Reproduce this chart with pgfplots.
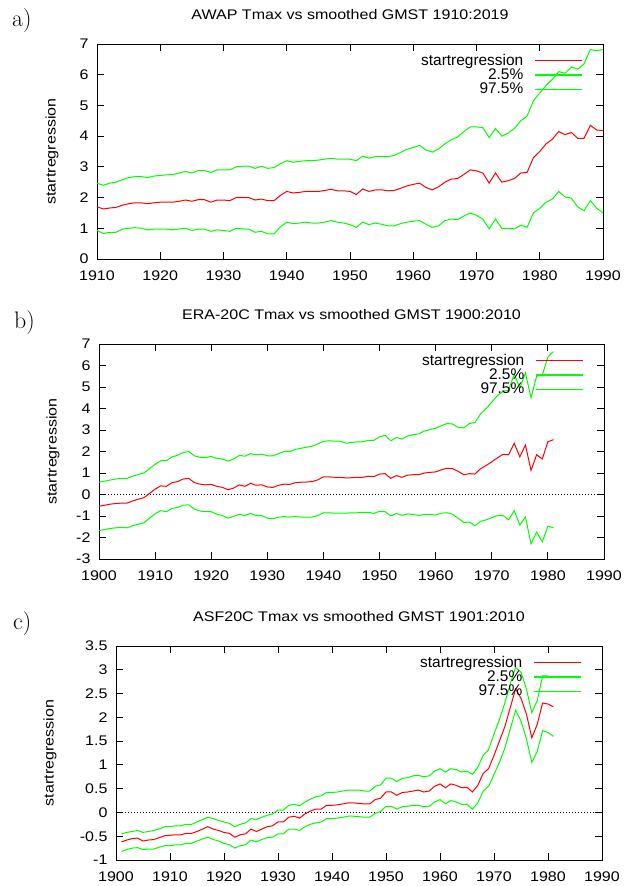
\documentclass[border=0pt]{standalone}
\usepackage{fontspec}
\usepackage{pgfplots}
\usepackage{pgfplotstable}
\pgfplotsset{compat=1.18}

\newfontfamily\gpfont[FakeStretch=1.15]{Liberation Sans}
\newfontfamily\gplegfont{Liberation Sans}
\newcommand\gp{\gpfont\fontsize{14}{16}\selectfont}
\newcommand\gpleg{\gplegfont\fontsize{15.5}{17}\selectfont}
\newcommand\lentry[1]{#1\vphantom{Ag\%}}
\definecolor{gpred}{RGB}{255,0,0}
\definecolor{gpgreen}{RGB}{0,255,0}

% year, regression, 2.5%, 97.5%
\pgfplotstableread{
year mid lo hi
1910 1.70 0.93 2.47
1911 1.63 0.83 2.40
1912 1.66 0.87 2.47
1913 1.68 0.87 2.50
1914 1.75 0.97 2.58
1915 1.80 1.00 2.65
1916 1.83 1.02 2.68
1917 1.83 1.00 2.68
1918 1.80 0.95 2.65
1919 1.83 0.97 2.70
1920 1.85 0.97 2.72
1921 1.85 0.97 2.74
1922 1.85 0.95 2.75
1923 1.88 0.98 2.80
1924 1.92 1.00 2.85
1925 1.88 0.93 2.80
1926 1.93 0.97 2.88
1927 1.93 0.97 2.88
1928 1.85 0.90 2.82
1929 1.92 0.95 2.90
1930 1.92 0.93 2.90
1931 1.90 0.90 2.90
1932 2.00 1.00 3.00
1933 2.00 0.98 3.02
1934 2.00 0.97 3.02
1935 1.92 0.87 2.95
1936 1.95 0.90 3.02
1937 1.90 0.82 2.95
1938 1.90 0.82 2.98
1939 2.07 1.05 3.10
1940 2.20 1.20 3.20
1941 2.15 1.15 3.15
1942 2.17 1.17 3.18
1943 2.20 1.20 3.20
1944 2.20 1.17 3.20
1945 2.20 1.17 3.22
1946 2.23 1.20 3.25
1947 2.27 1.25 3.28
1948 2.22 1.20 3.25
1949 2.22 1.17 3.25
1950 2.20 1.12 3.25
1951 2.10 1.03 3.20
1952 2.28 1.20 3.35
1953 2.20 1.12 3.28
1954 2.25 1.17 3.33
1955 2.25 1.13 3.33
1956 2.22 1.08 3.33
1957 2.23 1.08 3.37
1958 2.30 1.15 3.47
1959 2.38 1.20 3.57
1960 2.43 1.23 3.63
1961 2.47 1.25 3.70
1962 2.33 1.13 3.55
1963 2.25 1.03 3.48
1964 2.35 1.08 3.58
1965 2.50 1.25 3.75
1966 2.60 1.30 3.88
1967 2.62 1.28 3.97
1968 2.75 1.40 4.15
1969 2.90 1.50 4.30
1970 2.87 1.42 4.30
1971 2.80 1.30 4.28
1972 2.47 0.98 3.95
1973 2.80 1.30 4.25
1974 2.50 1.00 4.00
1975 2.55 1.00 4.10
1976 2.62 0.98 4.25
1977 2.80 1.10 4.50
1978 2.82 1.03 4.65
1979 3.30 1.50 5.15
1980 3.50 1.65 5.40
1981 3.75 1.85 5.65
1982 3.90 1.95 5.85
1983 4.15 2.20 6.10
1984 4.05 2.02 6.05
1985 4.12 1.98 6.25
1986 3.93 1.70 6.18
1987 3.93 1.57 6.35
1988 4.35 1.90 6.82
1989 4.20 1.65 6.78
1990 4.18 1.50 6.82
}\awap

\pgfplotstableread{
year mid lo hi
1900 -0.55 -1.68 0.57
1901 -0.50 -1.63 0.62
1902 -0.45 -1.58 0.67
1903 -0.42 -1.55 0.72
1904 -0.40 -1.53 0.75
1905 -0.40 -1.55 0.75
1906 -0.30 -1.45 0.85
1907 -0.22 -1.38 0.93
1908 -0.15 -1.32 1.00
1909 0.05 -1.10 1.20
1910 0.25 -0.90 1.40
1911 0.40 -0.75 1.57
1912 0.38 -0.80 1.57
1913 0.55 -0.65 1.75
1914 0.60 -0.60 1.82
1915 0.72 -0.50 1.95
1916 0.75 -0.48 2.00
1917 0.55 -0.68 1.80
1918 0.48 -0.77 1.73
1919 0.45 -0.80 1.72
1920 0.47 -0.80 1.77
1921 0.38 -0.92 1.68
1922 0.33 -0.98 1.65
1923 0.22 -1.10 1.55
1924 0.30 -1.02 1.65
1925 0.45 -0.92 1.82
1926 0.38 -0.98 1.78
1927 0.52 -0.88 1.90
1928 0.43 -0.98 1.85
1929 0.45 -0.98 1.88
1930 0.35 -1.10 1.80
1931 0.33 -1.13 1.80
1932 0.43 -1.05 1.90
1933 0.48 -1.03 2.00
1934 0.47 -1.05 2.00
1935 0.55 -1.03 2.10
1936 0.57 -1.05 2.15
1937 0.58 -1.05 2.20
1938 0.60 -1.05 2.25
1939 0.68 -0.98 2.35
1940 0.82 -0.85 2.47
1941 0.82 -0.85 2.50
1942 0.80 -0.87 2.48
1943 0.80 -0.87 2.48
1944 0.77 -0.87 2.38
1945 0.78 -0.85 2.42
1946 0.80 -0.85 2.45
1947 0.80 -0.83 2.45
1948 0.85 -0.83 2.52
1949 0.83 -0.88 2.52
1950 0.95 -0.78 2.68
1951 0.97 -0.80 2.75
1952 0.75 -1.00 2.50
1953 0.88 -0.88 2.65
1954 0.80 -0.97 2.58
1955 0.90 -0.90 2.72
1956 0.92 -0.93 2.78
1957 0.92 -0.97 2.82
1958 1.00 -0.93 2.95
1959 1.03 -0.93 3.02
1960 1.05 -0.95 3.08
1961 1.15 -0.87 3.20
1962 1.22 -0.85 3.30
1963 1.20 -0.92 3.28
1964 1.08 -1.10 3.12
1965 0.92 -1.30 3.10
1966 0.97 -1.28 3.30
1967 0.95 -1.45 3.35
1968 1.20 -1.25 3.75
1969 1.35 -1.18 4.00
1970 1.52 -1.08 4.30
1971 1.70 -0.98 4.60
1972 1.87 -0.97 4.80
1973 1.85 -1.18 4.85
1974 2.38 -0.75 5.60
1975 1.75 -1.42 4.95
1976 2.30 -1.05 5.65
1977 1.12 -2.30 4.50
1978 1.85 -1.75 5.50
1979 1.65 -2.20 5.55
1980 2.45 -1.48 6.40
1981 2.55 -1.55 6.65
}\eratwenty

\pgfplotstableread{
year mid lo hi
1901 -0.62 -0.82 -0.45
1902 -0.58 -0.78 -0.42
1903 -0.55 -0.75 -0.40
1904 -0.54 -0.74 -0.38
1905 -0.60 -0.78 -0.42
1906 -0.58 -0.77 -0.40
1907 -0.57 -0.77 -0.38
1908 -0.53 -0.73 -0.35
1909 -0.49 -0.70 -0.30
1910 -0.48 -0.70 -0.30
1911 -0.47 -0.68 -0.28
1912 -0.47 -0.68 -0.28
1913 -0.44 -0.65 -0.25
1914 -0.44 -0.65 -0.25
1915 -0.40 -0.60 -0.20
1916 -0.35 -0.56 -0.15
1917 -0.30 -0.52 -0.10
1918 -0.35 -0.57 -0.13
1919 -0.38 -0.60 -0.17
1920 -0.42 -0.65 -0.20
1921 -0.44 -0.68 -0.23
1922 -0.52 -0.75 -0.30
1923 -0.47 -0.70 -0.25
1924 -0.45 -0.68 -0.22
1925 -0.35 -0.58 -0.13
1926 -0.40 -0.62 -0.15
1927 -0.35 -0.57 -0.10
1928 -0.30 -0.53 -0.06
1929 -0.28 -0.52 -0.03
1930 -0.20 -0.45 0.05
1931 -0.20 -0.45 0.05
1932 -0.10 -0.35 0.15
1933 -0.08 -0.35 0.17
1934 -0.12 -0.38 0.14
1935 -0.03 -0.30 0.22
1936 0.03 -0.25 0.28
1937 0.07 -0.22 0.33
1938 0.07 -0.20 0.35
1939 0.15 -0.13 0.42
1940 0.15 -0.13 0.42
1941 0.16 -0.12 0.43
1942 0.18 -0.10 0.45
1943 0.20 -0.08 0.47
1944 0.20 -0.08 0.47
1945 0.19 -0.09 0.47
1946 0.18 -0.10 0.45
1947 0.18 -0.10 0.45
1948 0.27 -0.02 0.55
1949 0.30 0.02 0.58
1950 0.43 0.13 0.72
1951 0.43 0.13 0.72
1952 0.36 0.07 0.65
1953 0.42 0.12 0.72
1954 0.43 0.13 0.73
1955 0.45 0.15 0.77
1956 0.47 0.15 0.78
1957 0.43 0.12 0.75
1958 0.45 0.13 0.77
1959 0.55 0.22 0.87
1960 0.60 0.27 0.92
1961 0.52 0.18 0.85
1962 0.60 0.25 0.92
1963 0.57 0.22 0.90
1964 0.52 0.17 0.85
1965 0.53 0.17 0.87
1966 0.43 0.07 0.80
1967 0.57 0.20 0.95
1968 0.82 0.45 1.20
1969 0.92 0.55 1.32
1970 1.20 0.80 1.65
1971 1.50 1.05 1.95
1972 1.80 1.35 2.30
1973 2.20 1.75 2.70
1974 2.60 2.15 3.05
1975 2.40 1.92 2.95
1976 2.07 1.55 2.60
1977 1.57 1.05 2.10
1978 1.85 1.28 2.35
1979 2.30 1.72 2.87
1980 2.28 1.68 2.87
1981 2.22 1.60 2.83
}\asftwenty

\pgfplotsset{
  legend image code/.code={\draw[#1, line width=1.5bp] (0bp,0bp) -- (47bp,0bp);},
  gpstyle/.style={
    scale only axis,
    anchor=south west,
    axis line style={line width=0.9bp},
    every tick/.style={black, line width=0.9bp},
    major tick length=7bp,
    tick align=inside,
    scaled ticks=false,
    /pgf/number format/assume math mode=true,
    /pgf/number format/1000 sep={},
    tick label style={font=\gp},
    xticklabel style={yshift=-8bp},
    yticklabel style={xshift=-5bp},
    title style={font=\gp, at={(axis description cs:0.5,1)}, anchor=base, yshift=19bp, inner sep=0pt},
    ylabel style={font=\gp, anchor=center},
    legend style={draw=none, fill=none, font=\gpleg, at={(rel axis cs:1,1)}, anchor=north east,
      xshift=-20bp, yshift=-9bp, inner sep=0pt, row sep=0bp, column sep=10bp,
      nodes={inner sep=1bp}},
    legend cell align=right,
    legend plot pos=right,
    ylabel={startregression},
  },
  regline/.style={color=gpred, line width=1bp},
  bandline/.style={color=gpgreen, line width=1bp},
  zeroline/.style={color=black, line width=0.8bp, dash pattern=on 1bp off 2bp, forget plot},
}

\begin{document}
\begin{tikzpicture}
\path[use as bounding box] (0bp,0bp) rectangle (626bp,886bp);

% a) AWAP
\node[anchor=base west, inner sep=0pt, font=\fontsize{24}{28}\selectfont] at (12bp,859bp) {a)};
\begin{axis}[gpstyle, at={(97bp,627bp)}, width=506bp, height=215bp,
    xmin=1910, xmax=1990, ymin=0, ymax=7,
    xtick={1910,1920,...,1990}, ytick={0,1,...,7},
    ylabel style={at={(axis description cs:-0.089,0.5)}},
    title={AWAP Tmax vs smoothed GMST 1910:2019}]
  \addplot[regline] table[x=year, y=mid] {\awap};
  \addlegendentry{\lentry{startregression}}
  \addplot[bandline] table[x=year, y=lo] {\awap};
  \addlegendentry{\lentry{2.5\%}}
  \addplot[bandline] table[x=year, y=hi] {\awap};
  \addlegendentry{\lentry{97.5\%}}
\end{axis}

% b) ERA-20C
\node[anchor=base west, inner sep=0pt, font=\fontsize{24}{28}\selectfont] at (14bp,557bp) {b)};
\begin{axis}[gpstyle, at={(99bp,327bp)}, width=505bp, height=215bp,
    xmin=1900, xmax=1990, ymin=-3, ymax=7,
    xtick={1900,1910,...,1990}, ytick={-3,-2,...,7},
    ylabel style={at={(axis description cs:-0.091,0.5)}},
    title={ERA-20C Tmax vs smoothed GMST 1900:2010}]
  \addplot[zeroline] coordinates {(1900,0) (1990,0)};
  \addplot[regline] table[x=year, y=mid] {\eratwenty};
  \addlegendentry{\lentry{startregression}}
  \addplot[bandline] table[x=year, y=lo] {\eratwenty};
  \addlegendentry{\lentry{2.5\%}}
  \addplot[bandline] table[x=year, y=hi] {\eratwenty};
  \addlegendentry{\lentry{97.5\%}}
\end{axis}

% c) ASF20C
\node[anchor=base west, inner sep=0pt, font=\fontsize{24}{28}\selectfont] at (13bp,256bp) {c)};
\begin{axis}[gpstyle, at={(116bp,26bp)}, width=486bp, height=214bp,
    xmin=1900, xmax=1990, ymin=-1, ymax=3.5,
    xtick={1900,1910,...,1990}, ytick={-1,-0.5,...,3.5},
    ylabel style={at={(axis description cs:-0.136,0.5)}},
    title={ASF20C Tmax vs smoothed GMST 1901:2010}]
  \addplot[zeroline] coordinates {(1900,0) (1990,0)};
  \addplot[regline] table[x=year, y=mid] {\asftwenty};
  \addlegendentry{\lentry{startregression}}
  \addplot[bandline] table[x=year, y=lo] {\asftwenty};
  \addlegendentry{\lentry{2.5\%}}
  \addplot[bandline] table[x=year, y=hi] {\asftwenty};
  \addlegendentry{\lentry{97.5\%}}
\end{axis}
\end{tikzpicture}
\end{document}
